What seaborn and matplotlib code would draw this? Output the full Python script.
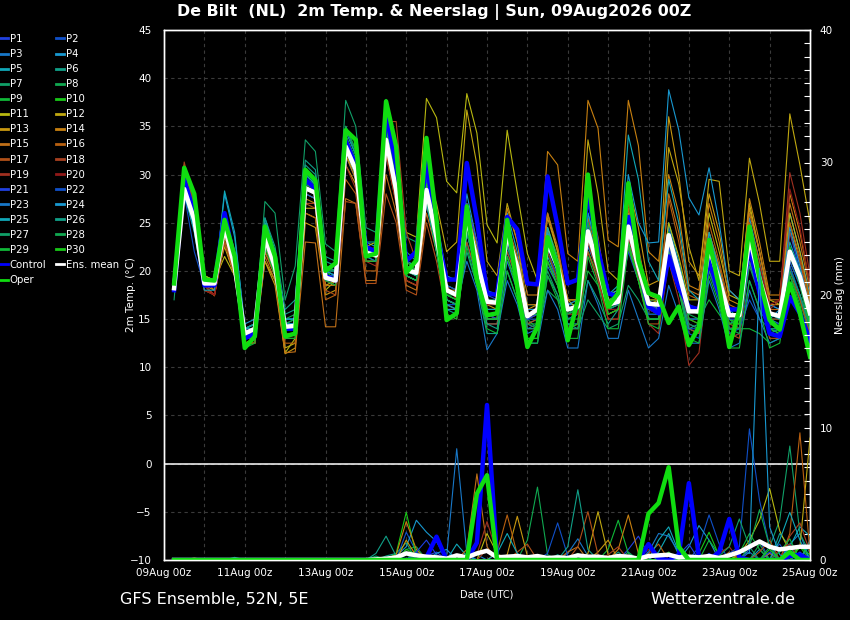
import numpy as np
import pandas as pd
import matplotlib
matplotlib.use("Agg")
import matplotlib.pyplot as plt
from matplotlib.lines import Line2D
from matplotlib.ticker import MultipleLocator
import seaborn as sns

# ---------------- data ----------------
hours = list(range(6, 385, 6))  # forecast hours 6..384 (6-hourly)
tick_hours = [0, 48, 96, 144, 192, 240, 288, 336, 384]
tick_labels = ["09Aug 00z", "11Aug 00z", "13Aug 00z", "15Aug 00z", "17Aug 00z",
               "19Aug 00z", "21Aug 00z", "23Aug 00z", "25Aug 00z"]

T_P1 = [18,29,25.5,19, 18.5,25,21,13.5, 14,24,21,14.5, 14.5,29,28.5,19.5,
        19,33.5,31,22.5, 22,34.5,29,20.5, 20,29,24,17.5, 17,27,22,16,
        16,25,21,14.5, 15,22,19.5,15, 15.5,25.5,21,17, 17,26,21.5,16,
        15.5,22,19,14.5, 14,20.5,18,14, 14.5,24,20,16.5, 16,24,20,17]
T_P2 = [18,28,24.5,18.5, 18.5,24,20,13, 13.5,23,20,14, 14,28,27.5,19,
        18.5,32,29.5,21, 21,33,28,19.5, 19,27,22,16.5, 16,24,20,15.5,
        15.5,22,19,14, 14.5,21,19,15.5, 16,23,20,16, 16.5,23,19.5,15,
        15,21,18,13.5, 13,20,17,13, 13.5,19,16,14, 14,19.5,17,14.5]
T_P3 = [18.5,29,26,19, 19,25.5,21.5,14, 14.5,24.5,21.5,15, 15,30,29,20,
        19.5,34,31.5,22, 22,34,28.5,20, 20,28,22.5,17, 16.5,23,19,14.5,
        14.5,21,18,13.5, 14,20.5,18.5,15, 15.5,22.5,20,16.5, 17,25,21,17,
        17,24.5,20.5,16, 16,23.5,20,15.5, 15.5,23,19.5,15, 14.5,21.5,19,15]
T_P4 = [18,28.5,25,18.5, 18.5,28,23.5,14.5, 15,25.5,22,15, 15,30.5,29.5,20.5,
        20,34.5,32,23, 22.5,35,29.5,21, 20.5,30,25.5,19.5, 19,28,23,18,
        17.5,26,22,16.5, 16.5,24,21,16.5, 16.5,25,21,16, 16,23,19.5,15,
        15,22.5,19,14, 13.5,21,18,14.5, 15,25.5,21,16.5, 16,26,22,17.5]
T_P5 = [18,28,24.5,18.5, 18.5,28.3,24,14, 14.5,23,19.5,13.5, 13.5,27,27,19,
        19,32.5,30,21.5, 21.5,34,28.5,20, 19.5,28.5,24,18, 17.5,26,21,15.5,
        15,24,20,15, 15.5,21.5,19,14.5, 14.5,23.5,20.5,16, 16.5,25.5,21.5,17,
        16,25,21,16.5, 16,24,20.5,16, 15,22,18.5,14, 13.5,20,17.5,13.5]
T_P6 = [18.5,28.5,25.5,19.5, 19,24.5,20.5,13.5, 14,25,22,15.5, 16,31,30,21,
        20.5,35,32.5,22.5, 22,34.5,30,21, 20.5,28,22,16, 15.5,22,18.5,13.5,
        13.5,20,17,13, 13,19.5,17.5,14, 14.5,22,19,15.5, 16,24,20,16,
        16.5,24,20.5,16, 15.5,22,19,15, 14.5,23.5,19.5,15.5, 15.5,22.5,20,16]
T_P7 = [17,29.5,26,19, 19,25,21,13.5, 14,27.2,26,17, 20.5,33.6,32.4,22.8,
        22,37.7,35,24.5, 24,37.8,32,23.5, 23,31,25,18.5, 18,26.5,22,17,
        17,24,20.5,15.5, 16,23,20,15.5, 16,24,20,16, 16.5,24,20,16,
        16,23,19.5,15, 15,22,18.5,14.5, 15,23,19,15, 15,21.5,19,15]
T_P8 = [18,29,25,18.5, 18.5,25.5,21.5,14, 14.5,24.5,21.5,15, 15.5,30,29,20,
        19.5,33,31,21.5, 21,33,28,19.5, 19,27,22.5,17, 16.5,24.5,20,15.5,
        15.5,24.5,20.5,15, 14,18,17,15.5, 16.5,25,21,17, 17.5,25.5,21,17,
        17,24,20,16, 16,23,19.5,15, 14,21,17.5,13.5, 13,20.5,17.5,14]
T_P9 = [18,30,26.5,19.5, 19,26,21.5,13, 13,23,20,14, 14,28.5,28,19.5,
        19.5,33,30.5,22, 21.5,33.5,28,20, 19.5,29,24,17.5, 17.5,25,20.5,16.5,
        16.5,23,19.5,14.5, 14.5,22,19,15, 15,20,18.5,15.5, 16,22.5,19,15.5,
        15.5,23,19.5,15, 15,17,15.5,14, 14,14,13.5,12.5, 13,19.5,17,13]
T_P10 = [18.5,30.5,27,19.5, 19,25,21,13, 13.5,24,21,14.5, 14.5,29,28.5,20,
         19,33,31,22, 22,35,29.5,21, 20,29.5,25,18.5, 18,26,21.5,16,
         16,25,21,16.5, 16.5,24.5,21.5,17, 17,22,19.5,16, 17,25.5,21.5,17,
         17,24,20,16, 15.5,22,18.5,15, 14.5,22,18,14, 13.5,21,18.5,14.5]
T_P11 = [18,29,26,19.5, 19,21.5,19.5,12.5, 13,21,19,11.5, 13,26,25.5,18,
         19,32,30,22.5, 23,32,28.5,24, 23.5,37.9,35.9,29.3, 28.1,38.4,34.3,24.8,
         22.9,34.6,28.1,21.8, 19,26,22,17, 16,25,21,16.5, 17,25,21,16.5,
         17,25,21.5,17, 17,26,22,17.5, 17,27,22,17, 16.5,26,22,17]
T_P12 = [18,29.5,26,19, 18.5,22.5,19.5,13, 13,22,19.5,12, 12.5,26.5,26.5,18.5,
         19,32.5,30,21.5, 21.5,33,28,20, 19.5,30,27,22, 23,36.7,31,21,
         19.5,27,23,16, 16,24.5,21,16, 16.5,33.6,28,20, 19,26,22,17.5,
         17,32.8,29,22.5, 19,29.5,29.3,20, 19.5,31.7,27,21, 21,36.3,31,25]
T_P13 = [18,30,26,18.5, 18,23,20,12.5, 12.5,21,18.5,11.4, 12,25,24.5,17.5,
         18,31,29,21, 21,32.5,27.5,19, 18.5,27.5,23,17, 16.5,26.5,22.5,16.5,
         16,24.5,21,16, 16.5,25.5,22,17, 17,27,23,17.5, 18,29,24.5,18.5,
         19,36,30,21, 19.5,28,24,18, 17,26.5,22,16.5, 16.5,25,21,16.5]
T_P14 = [18,30.5,26.5,19, 18,24,20.5,13, 13.5,22.5,20,13.5, 13.5,27.5,27,18.5,
         18.5,32,29.5,21, 21,33,28,19.5, 19,28,23.5,18, 18,27,23,17.5,
         17.5,26.5,23,17.5, 17.5,32.4,31,21.8, 21,37.7,34.8,23.2, 22.5,37.7,33,22,
         21,30,26,18.5, 18,27,23,17, 16.5,27.5,23,17.5, 17.5,28,24,18.5]
T_P15 = [18,30,26,18, 17.5,23,19.5,12.5, 12.5,21.5,19,11.5, 11.6,23,22.9,14.2,
         14.2,27.5,27,19, 19,30,26,18.5, 18,26,22,16, 16,25,21,16,
         16,25,21.5,16.5, 16.5,26,22.5,17, 17,28,23.5,17, 17,26.5,22,16.5,
         16,28,24,18, 17.5,24,20.5,16, 16,26,22,17, 17,27,23,18]
T_P16 = [18,31,27,18.5, 17.4,23.5,20,12.5, 12.5,22,19.5,12.5, 12.5,26,25.5,17,
         17.5,29.5,28,20, 20,32,27,19, 18.5,27,22.5,16.5, 16,24,20,15,
         15,23,19.5,14.5, 15,24,21,16, 16,25.5,21.5,16.5, 16.5,27,22.5,17,
         17,27.5,23,17.5, 17,25,21,16.5, 16,25,21,16, 16,25,21.5,17]
T_P17 = [18,30.5,26,18, 17.5,23,19.5,12.5, 12.5,23,20,13, 13,27,26.5,18,
         17.5,27.2,27,18.7, 18.7,28,25,18, 17.5,25,21,15.5, 15,23,19.5,14.5,
         14.5,22,19,14, 14,21,18.5,14, 14,22,19,15, 15,22.5,19,14.5,
         14.5,22,18.5,14, 13.5,21,18,13.5, 13,21,17.5,13, 13,20,17,13.5]
T_P18 = [18,31.3,27,18.5, 17.5,24,20.5,13, 13,23,20,13.5, 13.5,27,27,19,
         19,33,31,22, 22.5,35.5,35.5,24, 21,29,24,18.5, 17,24.5,20.5,15.5,
         15,23.5,20,15, 15.5,23,20.5,15.5, 15.5,23.5,20,15.5, 16,24,20,16,
         16,23,19.5,15, 14.5,22,18.5,14.5, 14,22.5,19,15, 15,24,21,16]
T_P19 = [18.5,30,26,18.5, 17.5,24.5,20.5,13.5, 13.5,24,21,14, 14,28,27.5,19,
         18.5,31,28.5,21, 20.5,32,27,19, 18.5,27.5,22.5,16.5, 16,24.5,20.5,15.5,
         15,23,19.5,14.5, 14,22,19,14, 14.5,23,19.5,15, 15,23.5,19.5,14.5,
         13.5,21,17,10.2, 11.5,20.5,17.5,13, 13.5,23.5,20,16, 17,30.2,26,19.5]
T_P20 = [18,29,25.5,18, 17.5,24,20,13, 13.5,23.5,20.5,14, 14,28,27.5,19,
         19,33,31,22.5, 22,34,30,21, 20,28.5,24,18, 17.5,26,21.5,16.5,
         16.5,24.5,21,16, 16,23.5,20.5,15.5, 15.5,24,20.5,16, 16,24.5,20.5,16,
         15.5,23.5,19.5,14.5, 14,21.5,18,14, 14.5,24,20.5,16.5, 17,28.5,24.5,18.5]
T_P21 = [18,28.5,25,18.5, 18.5,24.5,20.5,13.5, 14,23,20,14, 14,28.5,28,19.5,
         19,33.5,31,22, 21.5,33.5,28.5,20.5, 20,29.5,24.5,18.5, 18,27,23,17.5,
         17,23,20,15, 15.5,22.5,20,16, 16,24.5,20.5,16.5, 17,24,20,16.5,
         16,22.5,19,15, 15,21.5,18.5,15, 15,22,18.5,14.5, 14.5,21,18.5,15]
T_P22 = [18,28,22,18.5, 18.5,25,21,14, 14,24.5,21,14.5, 14.5,29,28.5,19.5,
         19.5,33.5,31,22, 21.5,34,29,20.5, 20,27.5,22.5,16.5, 16.5,24,20,15.5,
         15,22.5,19.5,15, 15,23.5,20.5,16, 16,25,21,16.5, 16.5,22,19,15.5,
         15.5,21,18,14, 14,20,17,13.5, 14,17,15,14, 14,20.5,17.5,14.5]
T_P23 = [18,28.5,25,19, 19,26,22,14, 14.5,24,20.5,14, 14,28,27.5,19,
         19,32.5,30,21.5, 21,33,28,19.5, 19,28.5,23.5,17, 16.5,21,18,11.8,
         13.5,19,16.5,12.5, 12.5,18,16,12, 12,19,16.5,13, 13,18,15,12,
         13,18.5,15.5,12.5, 12.5,19,16,12, 12.5,18,15,12.5, 13,18.5,15.5,12.5]
T_P24 = [18,29,25.5,18.5, 18.5,25,21,14, 14.5,24.5,21,14.5, 14.5,29.5,29,20,
         19.5,33.5,31,22, 22,34.5,29.5,20.5, 19.5,27,22,16, 16,24,20,15,
         15,23,20.5,16, 16,24,21,16.5, 17,26,22,17.5, 18,30,25,22.9,
         23,38.8,34.6,27.6, 25.8,30.7,25,18, 17,24,18,15, 16,24.5,20.5,16]
T_P25 = [18,28,24,18, 18,25.5,21.5,14, 14,25,22,15, 15,30,29,20,
         20,34,31.5,22.5, 22,34,28.5,20, 19.5,28,23,16.5, 16,25,21,16,
         16,24,20.5,15.5, 15.5,24.5,21,16, 16,26,22,17.5, 18.5,34.1,29.5,21,
         19,29.5,25,18, 17,24,20,15.5, 15,24,20,15.5, 15,23,20,15.5]
T_P26 = [18,29,25.5,18.5, 18.5,26,22,14, 14.5,25.5,22.5,16, 17,31.5,30.5,21.5,
         21,35,32,23, 23,36,31,22, 21,29,23.5,17, 16.5,24,19.5,14.5,
         14,21.5,18.5,14, 14,21,18.5,14.5, 14,19,17,14.5, 16,24.5,20.5,16,
         16,22,18,14, 14.5,21,18,14, 14,21,17.5,13.5, 14,22,19,15]
T_P27 = [18,29.5,26,19, 19,25,21,13.5, 14,24,21,14.5, 15,29.5,29,20,
         20,34,31.5,22, 21.5,33,27.5,19.5, 19,27.5,23,17, 16.5,24,20,15,
         15,22.5,19.5,14.5, 14,20,17.5,14, 14,17,15.5,14, 14.5,18.5,17,15,
         15,21,18,14.5, 14,20,17.5,14, 14,20.5,17.5,14, 14,20,17.5,14.5]
T_P28 = [18,29.5,25.5,18.5, 18.5,25.5,21,13.5, 14,24.5,21,14.5, 15,30,29.5,20.5,
         20,35,32.5,22.5, 22,35.5,30,21, 20,29,24,17.5, 17,25,20.5,15.5,
         15.5,24,20.5,15.5, 15.5,23,20,15.5, 16,25,21,16.5, 17,25,21,16.5,
         16.5,24,20,15.5, 15,21.5,18,14, 13.5,22.5,18.5,13.5, 13.5,22,18.5,14]
T_P29 = [18.5,30,26,18.5, 18.5,24.5,20,12, 12.5,22.5,19.5,13, 13,28.5,28,19,
         18.5,33,30.5,21, 21,33.5,28,19.5, 19,27.5,22,15.5, 15,22.5,18.5,14,
         13.5,20,17,12.5, 12.5,19.5,17,13, 13,21.5,18.5,14, 14,22.5,19,14.5,
         14,21.5,18,13, 12.5,19.5,16.5,12, 12,19,16,12, 12.5,19.5,16.5,12]
T_P30 = [18,30,26,19, 19,25.5,21,13, 13.5,23.5,20.5,14, 14,29,28.5,19.5,
         19,34,31.5,22, 21.5,34.5,29,20.5, 20,29,24,17.5, 17,24.5,20,15,
         15,21.5,18,13, 13,21,18.5,14, 14.5,23.5,20,15.5, 16,23,19,15,
         15,23.5,20,15, 14.5,22.5,19,14.5, 14.5,23,19,14.5, 14,22.5,19,14.5]
T_CTRL = [18,29.5,26,18.5, 18.5,26,21,13, 13.5,24,21,14, 14,29.5,28.5,19.5,
          19,33.5,31,22.5, 22,36.2,31,21, 22,31.5,23.9,19.1, 19.1,31.2,25.3,17.7,
          17.5,25.6,24.3,18.7, 18.6,29.8,24.6,18.7, 19.1,28.1,22.2,17.7, 17.3,25.6,21.1,16.3,
          15.6,21.5,18.3,16.3, 16,21.1,17.7,16, 16,22.5,17.7,13.5, 13.2,17.3,15.6,12.8]
T_OPER = [18.7,30.7,28,19.1, 19,25.3,21.5,12, 13.2,24.6,21.5,13.2, 13.5,30.5,29.4,20,
          20.8,34.6,33.6,21.5, 21.8,37.6,32.9,19.8, 21.1,33.8,25.3,14.9, 15.6,26.7,19.1,15.4,
          15.6,25.3,18.3,12.1, 14.2,23.5,20.4,12.8, 17,30,21.1,16.3, 17.7,29.1,21.1,17.7,
          17.3,14.6,16.3,12.3, 14.2,23.2,18.3,12.1, 16,24.6,19.1,14.9, 13.9,18.7,15.6,11.1]
T_MEAN = [18.2,28.5,25.3,18.7, 18.7,24.6,20.4,13.5, 14.0,23.5,20.4,14.2, 14.3,28.6,28.1,19.3,
          19.0,32.9,30.5,21.9, 21.6,33.6,28.4,20.1, 19.8,28.4,23.5,18.0, 17.5,25.6,21.1,16.8,
          16.7,23.9,20.4,15.3, 16.0,22.9,20.4,16.0, 16.3,24.1,20.4,16.5, 16.8,24.6,20.4,16.6,
          16.5,23.7,19.8,15.8, 15.8,22.4,19.1,15.4, 15.4,23.5,19.1,15.6, 15.3,22.0,19.4,15.6]

# precipitation (mm per 6 h)
R_P1 = [0,0,0,0,0,0,0,0, 0,0,0,0,0,0,0,0, 0,0,0,0,0,0,0,0, 0,.3,.6,0,0,0,0,0,
        0,0,0,0,0,0,0,0, 0,0,0,0,0,.8,1.8,.4, 0,0,0,0,0,.5,0,0, 0,.8,1.5,0,0,0,.6,0]
R_P2 = [0,0,0,0,0,0,0,0, 0,0,0,0,0,0,0,0, 0,0,0,0,0,0,0,2.1, .6,0,0,0,0,0,0,0,
        0,0,0,0,0,.3,0,0, 0,0,0,0,0,0,0,0, 0,0,0,0,1.0,3.4,1.2,0, 0,0,0,.5,1.2,0,0,0]
R_P3 = [0,0,0,0,0,0,0,0, 0,0,0,0,0,0,0,0, 0,0,0,0,0,0,0,0, .5,0,0,0,0,0,.4,0,
        0,0,0,0,0,0,0,.5, 1.6,.3,0,0,0,0,0,0, 0,0,0,0,0,0,0,0, 0,.6,0,0,0,1.2,2.0,0]
R_P4 = [0,0,0,0,0,0,0,0, 0,0,0,0,0,0,0,0, 0,0,0,0,0,0,.3,1.0, 3.0,2.1,1.4,0,0,0,0,0,
        0,0,0,0,0,0,0,0, 0,0,0,0,0,0,0,0, 0,0,0,1.0,2.6,1.5,0,0, 0,0,.8,0,0,0,0,1.5]
R_P5 = [0,0,0,0,0,0,0,0, 0,0,0,0,0,0,0,0, 0,0,0,0,0,0,0,0, 0,0,0,0,1.2,.3,0,0,
        0,0,0,0,0,0,0,0, 0,0,0,0,0,0,0,0, .6,2.0,.4,0,0,0,0,0, 0,0,0,0,0,1.0,2.5,1.8]
R_P6 = [0,0,0,0,0,0,.2,0, 0,0,0,0,0,0,0,0, 0,0,0,0,0,.3,.5,1.3, 0,0,0,0,0,0,0,0,
        0,0,0,0,0,0,.4,0, 0,0,0,0,.6,0,0,0, 0,0,0,0,0,0,0,0, 0,0,0,0,2.0,1.0,0,0]
R_P7 = [0,0,0,0,0,0,0,0, 0,0,0,0,0,0,0,0, 0,0,0,0,.3,0,0,0, .8,0,0,0,0,0,0,0,
        0,0,0,.3,0,0,0,0, 0,0,0,0,0,0,0,0, 0,0,0,0,0,0,0,0, 0,0,0,1.0,3.0,8.6,2.0,.5]
R_P8 = [0,0,0,0,0,0,0,0, 0,0,0,0,0,0,0,0, 0,0,0,0,0,0,0,.8, 1.0,0,0,0,0,0,0,0,
        0,0,0,1.5,5.5,.4,0,0, 0,0,0,0,0,0,0,0, 0,.5,0,0,0,0,0,0, 0,0,1.2,0,0,0,0,0]
R_P9 = [0,0,0,0,0,0,0,0, 0,0,0,0,0,0,0,0, 0,0,0,0,0,0,0,.6, 0,0,0,0,0,0,0,0,
        0,0,0,0,0,0,0,0, 0,0,0,.8,3.0,.5,0,0, 0,0,0,0,0,0,0,0, .5,2.0,.8,0,0,0,0,0]
R_P10 = [0,0,0,0,0,0,0,0, 0,0,0,0,0,0,0,0, 0,0,0,0,0,0,.5,3.6, .3,0,0,0,0,0,0,0,
         0,0,0,0,0,0,0,0, 0,0,0,0,0,0,0,0, 0,0,0,0,.5,2.1,.3,0, 0,0,0,0,0,0,1.0,0]
R_P11 = [0,0,0,0,0,0,0,0, 0,0,0,0,0,0,0,0, 0,0,0,0,0,0,0,0, 0,0,0,0,0,0,0,2.0,
         .5,0,0,0,0,0,0,0, 0,0,0,0,0,0,0,0, 0,0,0,0,0,0,0,0, .4,1.5,3.0,5.4,2.2,.6,0,0]
R_P12 = [0,0,0,0,0,0,0,0, 0,0,0,0,0,0,0,0, 0,0,0,0,0,0,0,0, 0,0,0,0,0,0,0,0,
         0,0,0,0,0,0,0,0, 0,.5,3.65,.4,0,0,0,0, 0,0,0,0,0,0,0,0, 0,0,0,0,0,.3,1.0,9.2]
R_P13 = [0,0,.15,0,0,0,0,0, 0,0,0,0,0,0,0,0, 0,0,0,0,0,0,0,1.5, .3,0,0,0,0,0,0,0,
         0,.4,3.3,.3,0,0,0,0, 0,0,.6,1.5,0,0,0,0, 0,0,0,0,0,0,0,0, 0,0,0,0,0,0,0,0]
R_P14 = [0,0,0,0,0,0,0,0, 0,0,0,0,0,0,0,0, 0,0,0,0,0,0,.4,2.9, .8,0,0,0,0,0,0,0,
         0,0,0,0,0,0,0,0, 0,0,0,0,.8,3.4,.5,0, 0,0,0,0,0,0,0,0, 0,0,0,.5,0,0,0,0]
R_P15 = [0,0,0,0,0,0,0,0, 0,0,0,0,0,0,0,0, 0,0,0,0,0,0,0,0, 0,0,0,0,0,.8,6.5,1.0,
         0,0,0,0,0,0,0,.6, 1.0,0,0,0,0,0,0,0, 0,0,0,0,0,0,0,.6, 0,0,0,0,0,0,0,0]
R_P16 = [0,0,0,0,0,0,0,0, 0,0,0,0,0,0,0,0, 0,0,0,0,0,0,0,0, 0,0,0,0,0,0,0,0,
         .6,3.4,.4,0,0,0,0,0, 0,0,0,0,0,0,0,.5, 1.2,0,0,0,0,0,0,0, 0,0,0,0,0,2.0,9.6,.5]
R_P17 = [0,0,0,0,0,0,0,0, 0,0,0,0,0,0,0,0, 0,0,0,0,0,0,0,0, 0,0,0,0,0,0,0,0,
         0,0,.6,1.2,0,0,0,0, 1.0,3.65,.4,0,0,0,0,0, 0,0,0,0,0,0,0,0, 0,0,.6,1.5,0,0,0,0]
R_P18 = [0,0,0,0,0,0,0,0, 0,0,0,0,0,0,0,0, 0,0,0,0,0,0,0,0, 0,0,0,0,0,0,0,.8,
         .3,0,0,0,0,0,0,0, 0,0,0,.4,1.0,0,0,0, 0,0,0,0,0,0,0,0, 0,0,0,0,0,1.8,2.8,.6]
R_P19 = [0,0,0,0,0,0,0,0, 0,0,0,0,0,0,0,0, 0,0,0,0,0,0,0,0, 0,0,0,0,0,0,.4,2.9,
         .5,0,0,0,0,0,0,0, 0,0,0,0,0,0,0,0, 0,0,0,0,0,0,.5,1.0, 0,0,0,0,.8,1.2,0,0]
R_P20 = [0,0,0,0,0,0,0,0, 0,0,0,0,0,0,0,0, 0,0,0,0,0,0,0,0, 0,0,0,0,0,0,0,0,
         0,0,0,0,.4,0,0,0, 0,0,0,0,0,0,.3,.8, 0,0,0,0,0,0,0,0, 0,0,0,0,0,.5,0,0]
R_P21 = [0,0,0,0,0,0,0,0, 0,0,0,0,0,0,0,0, 0,0,0,0,0,0,0,0, .6,1.5,.4,0,0,0,0,0,
         0,0,0,0,0,0,0,0, 0,0,0,0,0,0,0,0, 0,0,.4,1.2,0,0,0,0, 0,0,0,.6,0,0,0,0]
R_P22 = [0,0,0,0,0,0,0,0, 0,0,0,0,0,0,0,0, 0,0,0,0,0,0,0,0, 0,0,0,0,0,0,0,0,
         0,0,0,0,0,.5,2.8,.3, 0,0,0,0,0,0,0,0, 0,0,0,0,0,0,0,.5, 1.0,9.9,4.5,1.0,0,0,0,0]
R_P23 = [0,0,0,0,0,0,0,0, 0,0,0,0,0,0,0,0, 0,0,0,0,0,0,0,0, 0,0,0,.3,8.4,.5,0,0,
         0,0,0,0,0,0,0,0, 0,0,0,0,0,0,0,.6, 2.0,1.8,.6,0,0,0,0,0, 0,0,0,0,0,0,0,0]
R_P24 = [0,0,0,0,0,0,0,0, 0,0,0,0,0,0,0,0, 0,0,0,0,0,0,0,0, 0,0,.5,.8,0,0,0,0,
         0,0,0,0,0,0,0,0, 0,0,0,0,0,0,0,0, 0,0,0,0,0,0,0,.4, .6,.5,22.0,2.5,.4,0,0,0]
R_P25 = [0,0,0,0,0,0,0,0, 0,0,0,0,0,0,0,0, 0,0,0,0,0,0,0,0, 0,0,0,0,0,0,0,0,
         .5,2.0,.5,0,0,0,0,0, 0,0,0,0,0,0,0,0, 1.5,2.5,.6,0,0,0,0,0, 0,0,0,0,1.5,3.6,1.5,0]
R_P26 = [0,0,0,0,0,0,0,0, 0,0,0,0,0,0,0,0, 0,0,0,0,.5,1.8,.3,0, 0,0,0,0,0,0,0,0,
         0,0,0,0,0,0,0,1.0, 5.3,.8,0,0,0,0,0,0, 0,0,0,0,0,0,0,0, 0,0,0,0,0,0,0,1.2]
R_P27 = [0,0,0,0,0,0,0,0, 0,0,0,0,0,0,0,0, 0,0,0,0,0,0,0,0, 0,0,0,0,0,0,0,0,
         0,0,.4,0,0,0,0,0, 0,0,0,0,0,.6,0,0, 0,0,0,0,0,0,.3,1.0, 3.1,1.0,0,0,0,0,0,0]
R_P28 = [0,0,0,0,0,0,0,0, 0,0,0,0,0,0,0,0, 0,0,0,0,0,0,0,0, .3,0,0,0,0,0,0,0,
         0,0,0,0,0,0,0,0, 0,0,0,0,.4,0,0,0, 0,0,0,0,0,0,0,0, 0,1.0,3.8,1.0,0,0,.5,0]
R_P29 = [0,0,0,0,0,0,0,0, 0,0,0,0,0,0,0,0, 0,0,0,0,0,0,0,.4, 0,0,0,0,0,0,0,0,
         0,0,0,0,.3,0,0,0, 0,0,0,0,0,0,0,0, 0,0,0,0,0,1.5,.4,0, 0,0,0,0,.6,1.6,0,0]
R_P30 = [0,0,0,0,0,0,0,0, 0,0,0,0,0,0,0,0, 0,0,0,0,0,0,0,.8, .4,0,0,0,0,0,0,0,
         0,0,0,0,0,0,0,0, .5,0,0,0,0,0,0,0, 0,.6,0,0,0,0,0,0, 0,0,0,.8,0,0,1.0,.4]
R_CTRL = [0,0,0,0,0,0,0,0, 0,0,0,0,0,0,0,0, 0,0,0,0,0,0,0,0, 0,.2,1.76,0,0,0,1.3,11.7,
          0,0,0,0,0,0,0,0, 0,0,0,0,0,0,0,1.2, .1,0,.4,5.8,.2,0,.6,3.1, .2,0,0,0,0,.3,.4,0]
R_OPER = [0,0,0,0,0,0,0,0, 0,0,0,0,0,0,0,0, 0,0,0,0,0,0,0,0, 0,0,0,0,0,0,5.0,6.4,
          0,0,0,0,0,0,0,0, 0,0,0,0,0,0,0,3.5, 4.3,7.0,1.0,0,0,0,0,0, 0,0,0,0,0,.6,0,0]
R_MEAN = [0,0,0,0,0,0,0,0, 0,0,0,0,0,0,0,0, 0,0,0,0,.05,.1,.2,.5, .35,.25,.2,.1,.35,.2,.5,.7,
          .2,.25,.3,.2,.3,.15,.2,.15, .35,.25,.25,.15,.3,.25,.1,.3,
          .35,.4,.2,.25,.2,.3,.15,.35, .6,1.0,1.4,1.0,.8,.9,1.0,1.0]

member_names = ["P%d" % k for k in range(1, 31)]
member_T = [T_P1, T_P2, T_P3, T_P4, T_P5, T_P6, T_P7, T_P8, T_P9, T_P10,
            T_P11, T_P12, T_P13, T_P14, T_P15, T_P16, T_P17, T_P18, T_P19, T_P20,
            T_P21, T_P22, T_P23, T_P24, T_P25, T_P26, T_P27, T_P28, T_P29, T_P30]
member_R = [R_P1, R_P2, R_P3, R_P4, R_P5, R_P6, R_P7, R_P8, R_P9, R_P10,
            R_P11, R_P12, R_P13, R_P14, R_P15, R_P16, R_P17, R_P18, R_P19, R_P20,
            R_P21, R_P22, R_P23, R_P24, R_P25, R_P26, R_P27, R_P28, R_P29, R_P30]

palette20 = ['#2040e0', '#1050c8', '#1878c8', '#1898d0', '#10a8b8', '#10a088', '#10a068',
             '#10a850', '#10b838', '#18c818', '#b8b810', '#c0a810', '#c89810', '#c88010',
             '#c07018', '#b86010', '#b05018', '#a84020', '#a03020', '#901818']
c_ctrl, c_mean, c_oper = '#0000ff', '#ffffff', '#10dd10'

# ---------------- figure ----------------
W, H = 850, 620
fig = plt.figure(figsize=(W / 100, H / 100), dpi=100, facecolor='black')
ax = fig.add_axes([164 / W, 1 - 560 / H, 646 / W, 530 / H], facecolor='black')
ax2 = ax.twinx()

lw_m, lw_t = 0.8, 3.2
for k, name in enumerate(member_names):
    sns.lineplot(x=hours, y=member_T[k], ax=ax, color=palette20[k % 20],
                 linewidth=lw_m, legend=False, sort=False)
sns.lineplot(x=hours, y=T_CTRL, ax=ax, color=c_ctrl, linewidth=lw_t, legend=False, sort=False)
sns.lineplot(x=hours, y=T_MEAN, ax=ax, color=c_mean, linewidth=lw_t, legend=False, sort=False)
sns.lineplot(x=hours, y=T_OPER, ax=ax, color=c_oper, linewidth=lw_t, legend=False, sort=False)

for k, name in enumerate(member_names):
    sns.lineplot(x=hours, y=member_R[k], ax=ax2, color=palette20[k % 20],
                 linewidth=lw_m, legend=False, sort=False)
sns.lineplot(x=hours, y=R_CTRL, ax=ax2, color=c_ctrl, linewidth=lw_t, legend=False, sort=False)
sns.lineplot(x=hours, y=R_MEAN, ax=ax2, color=c_mean, linewidth=lw_t, legend=False, sort=False)
sns.lineplot(x=hours, y=R_OPER, ax=ax2, color=c_oper, linewidth=lw_t, legend=False, sort=False)

ax.axhline(0, color='white', lw=1.1, zorder=1)

ax.set_xlim(0, 384)
ax.set_ylim(-10, 45)
ax2.set_ylim(0, 40)
ax.set_xticks(tick_hours)
ax.set_xticklabels(tick_labels)
ax.xaxis.set_minor_locator(MultipleLocator(24))
ax.set_yticks(list(range(-10, 46, 5)))
ax2.set_yticks([0, 10, 20, 30, 40])
ax2.yaxis.set_minor_locator(MultipleLocator(1))

grid_kw = dict(color='#3a3a3a', linestyle=(0, (3, 3)), linewidth=0.8)
ax.grid(True, which='major', axis='y', **grid_kw)
ax.grid(True, which='both', axis='x', **grid_kw)
ax.set_axisbelow(True)
ax2.grid(False)

ax.tick_params(axis='y', colors='white', labelsize=7.5, length=0, pad=9)
ax.tick_params(axis='x', which='both', colors='white', labelsize=7.5, length=0, pad=6)
ax2.tick_params(axis='y', which='both', direction='in', colors='white', labelsize=7.5,
                length=4, width=0.8, pad=7)
for a in (ax, ax2):
    for s in a.spines.values():
        s.set_color('white')
        s.set_linewidth(1.0)

ax.set_xlabel("Date (UTC)", color='white', fontsize=7)
ax.xaxis.set_label_coords(0.5, -0.055)
ax.set_ylabel("2m Temp. (°C)", color='white', fontsize=7.5)
ax.yaxis.set_label_coords(-0.043, 0.5)
ax2.set_ylabel("Neerslag (mm)", color='white', fontsize=7.5, rotation=90)
ax2.yaxis.set_label_coords(1.038, 0.5)

fig.text(434.5 / W, 1 - 12 / H, "De Bilt  (NL)  2m Temp. & Neerslag | Sun, 09Aug2026 00Z",
         color='white', fontsize=11.4, fontweight='bold', ha='center', va='center')
fig.text(120 / W, 1 - 599 / H, "GFS Ensemble, 52N, 5E", color='white', fontsize=11.5,
         ha='left', va='center')
fig.text(795 / W, 1 - 599 / H, "Wetterzentrale.de", color='white', fontsize=11.5,
         ha='right', va='center')

# legend (row-major order like reference: P1 P2 / P3 P4 / ...)
col1 = [(member_names[k], palette20[k % 20]) for k in range(0, 30, 2)] + \
       [("Control", c_ctrl), ("Oper", c_oper)]
col2 = [(member_names[k], palette20[k % 20]) for k in range(1, 30, 2)] + \
       [("Ens. mean", c_mean)]
entries = col1 + col2
handles = [Line2D([], [], color=c, lw=2) for _, c in entries]
labels = [n for n, _ in entries]
fig.legend(handles, labels, loc='upper left', bbox_to_anchor=(0.0, 1 - 34 / H),
           ncol=2, frameon=False, fontsize=7.3, handlelength=0.8, handletextpad=0.15,
           columnspacing=0.95, labelspacing=0.50, borderpad=0, borderaxespad=0,
           labelcolor='white')

fig.savefig("out.png", dpi=100, facecolor='black')
